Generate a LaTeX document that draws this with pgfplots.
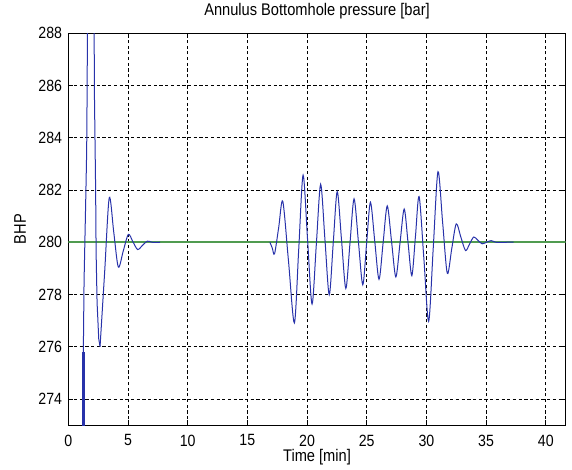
\documentclass[border=0pt]{standalone}
\usepackage{pgfplots}
\pgfplotsset{compat=1.18}
\usepackage{fontspec}
\setmainfont{Liberation Sans}
\definecolor{mblue}{RGB}{40,50,170}
\definecolor{mgreen}{RGB}{80,155,80}
\begin{document}
\begin{tikzpicture}
\begin{axis}[
  at={(0,0)}, anchor=south west,
  scale only axis, width=497.4bp, height=391.7bp,
  xmin=0, xmax=41.67, ymin=273, ymax=288,
  xtick={0,5,...,40}, ytick={274,276,...,288},
  grid=major,
  major grid style={black, line width=0.55bp, dash pattern=on 3.2bp off 2.5bp},
  axis line style={black, line width=0.8bp},
  tick align=inside, major tick length=5bp, tick style={black, line width=0.6bp},
  /pgf/number format/assume math mode=true,
  /pgf/number format/1000 sep={},
  ticklabel style={font=\fontsize{14.2}{16}\selectfont, yscale=1.15, inner sep=0pt},
  xticklabel style={anchor=north, yshift=-8.3bp},
  yticklabel style={anchor=east, xshift=-6bp},
  title={Annulus Bottomhole pressure [bar]},
  title style={at={(0.5,1)}, anchor=center, yshift=16bp, inner sep=0pt, font=\fontsize{14.7}{16}\selectfont, yscale=1.15},
  xlabel={Time [min]},
  xlabel style={at={(0.5,0)}, anchor=center, yshift=-32bp, inner sep=0pt, font=\fontsize{14.7}{16}\selectfont, yscale=1.15},
  ylabel={BHP},
  ylabel style={at={(0,0.5)}, anchor=center, yshift=48.3bp, inner sep=0pt, font=\fontsize{14.7}{16}\selectfont, yscale=1.15},
]
% reference line
\addplot[mgreen, line width=1.6bp] coordinates {(0,280) (41.67,280)};
% initial vertical (bold) segment
\addplot[mblue, line width=2.6bp] coordinates {(1.26,270) (1.26,275.8)};
% initial spike
\addplot[mblue, line width=1.0bp] coordinates {
  (1.26,275.8) (1.32,278.5) (1.46,281.6) (1.54,283.5) (1.58,286) (1.6,288)
  (1.7,293) (1.9,296) (2.08,292) (2.17,288) (2.18,286) (2.29,282)
  (2.33,279.6) (2.41,277.7) (2.55,276.3) (2.66,276.0)};
% first damped oscillation
\addplot[mblue, line width=1.0bp, smooth] coordinates {
  (2.66,276.0) (3.045,278.85) (3.43,281.7) (3.81,280.375) (4.19,279.05)
  (4.61,279.675) (5.03,280.3) (5.42,280.01) (5.81,279.72) (6.215,279.88)
  (6.62,280.04) (7.0,280.0) (7.3,279.99) (7.7,280.0)};
% second oscillation
\addplot[mblue, line width=1.0bp, smooth] coordinates {
  (16.89,280.0) (17.085,279.78) (17.28,279.56) (17.625,280.56) (17.97,281.56)
  (18.455,279.235) (18.94,276.91) (19.305,279.74) (19.67,282.57)
  (20.045,280.10) (20.42,277.63) (20.78,279.925) (21.14,282.22)
  (21.50,280.105) (21.86,277.99) (22.195,279.965) (22.53,281.94)
  (22.89,280.085) (23.25,278.23) (23.595,279.945) (23.94,281.66)
  (24.305,280.015) (24.67,278.37) (24.99,279.95) (25.31,281.53)
  (25.67,280.055) (26.03,278.58) (26.375,279.985) (26.72,281.39)
  (27.08,280.03) (27.44,278.67) (27.79,279.97) (28.14,281.27)
  (28.46,279.995) (28.78,278.72) (29.085,280.235) (29.39,281.75)
  (29.79,279.36) (30.19,276.97) (30.58,279.835) (30.97,282.70)
  (31.36,280.755) (31.75,278.81) (32.125,279.755) (32.5,280.70)
  (32.89,280.19) (33.28,279.68) (33.625,279.94) (33.97,280.20)
  (34.32,280.07) (34.67,279.94) (35.045,280.0) (35.42,280.06)
  (35.8,280.0) (36.3,279.99) (36.8,280.0) (37.3,280.0)};
\end{axis}
\pgfresetboundingbox
\path[use as bounding box] (-68.3bp,-45bp) rectangle (503.7bp,425bp);
\end{tikzpicture}
\end{document}
